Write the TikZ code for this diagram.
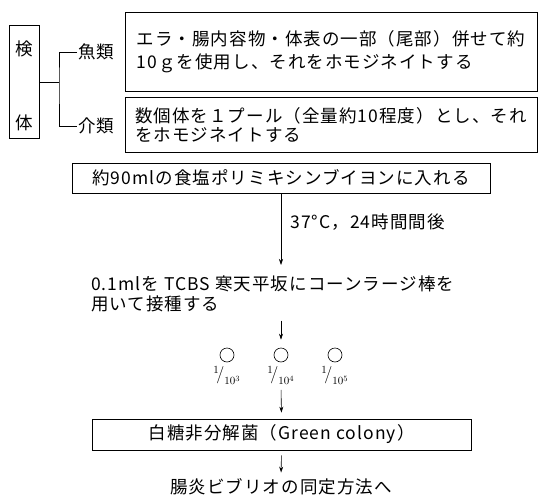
\documentclass[tikz,border=0pt]{standalone}
\usepackage{fontspec}
\newfontfamily\jpfont{Noto Sans CJK JP}[LetterSpace=6]
\usetikzlibrary{arrows.meta, positioning}

\begin{document}
\begin{tikzpicture}[x=1pt, y=-1pt,
  font=\jpfont\fontsize{17.5}{20}\selectfont,
  box/.style={draw, line width=0.8pt, inner sep=0pt},
  lbl/.style={inner sep=1pt},
  arr/.style={-{Stealth[length=6pt,width=4pt]}, line width=0.6pt},
  dish/.style={draw, circle, minimum size=14pt, inner sep=0pt, line width=0.6pt}]
\useasboundingbox (0,0) rectangle (539,496);

% sample and its two kinds
\node[box, minimum width=30, minimum height=113] (kentai) at (24,82) {};
\node[lbl] (ken) at (24,49) {検};
\node[lbl] (tai) at (24,123) {体};
\node[lbl, anchor=west] (gyo) at (77,52) {魚類};
\node[lbl, anchor=west] (kai) at (77,126) {介類};
\coordinate (jn) at (59,82);
\draw[line width=0.6pt] (kentai.east) -- (jn);
\draw[line width=0.6pt] (gyo.west) -| (jn) |- (kai.west);

\node[box, minimum width=412, minimum height=79, align=left] (fish) at (331,51.5) {エラ・腸内容物・体表の一部（尾部）併せて約\\[3pt]10ｇを使用し、それをホモジネイトする};
\node[box, minimum width=412, minimum height=55, align=left] (shell) at (331,124.5) {数個体を１プール（全量約10程度）とし、それ\\[-1pt]をホモジネイトする};

% enrichment and plating
\node[box, minimum width=418, minimum height=30] (broth) at (281,178) {約90mlの食塩ポリミキシンブイヨンに入れる};
\node[lbl, anchor=north west, align=left] (inoc) at (90,275) {0.1mlを TCBS 寒天平坂にコーンラージ棒を\\用いて接種する};
\draw[arr] (broth.south) -- node[lbl, right=8pt, pos=0.4] {37°C，24時間間後} ([yshift=10pt]inoc.north -| broth.south);

\foreach \n/\x/\e in {1/227/3, 2/281/4, 3/335/5} {
  \node[dish] (c\n) at (\x,355) {};
  \node[inner sep=0pt, below=4pt of c\n, font=\fontsize{16}{17}\selectfont] (f\n) {$^{1}\!\big/_{10^{\e}}$};
}
\draw[arr, shorten <=7pt, shorten >=8pt] (inoc.south -| c2) -- (c2.north);

% result
\node[box, minimum width=379, minimum height=31] (sucrose) at (281.5,434.5) {白糖非分解菌（Green colony）};
\node[lbl] (goal) at (281,487) {腸炎ビブリオの同定方法へ};
\draw[arr, shorten <=5pt, shorten >=6pt] (f2.south) -- (sucrose.north);
\draw[arr, shorten <=5pt, shorten >=5pt] (sucrose.south) -- (goal.north);
\end{tikzpicture}
\end{document}
